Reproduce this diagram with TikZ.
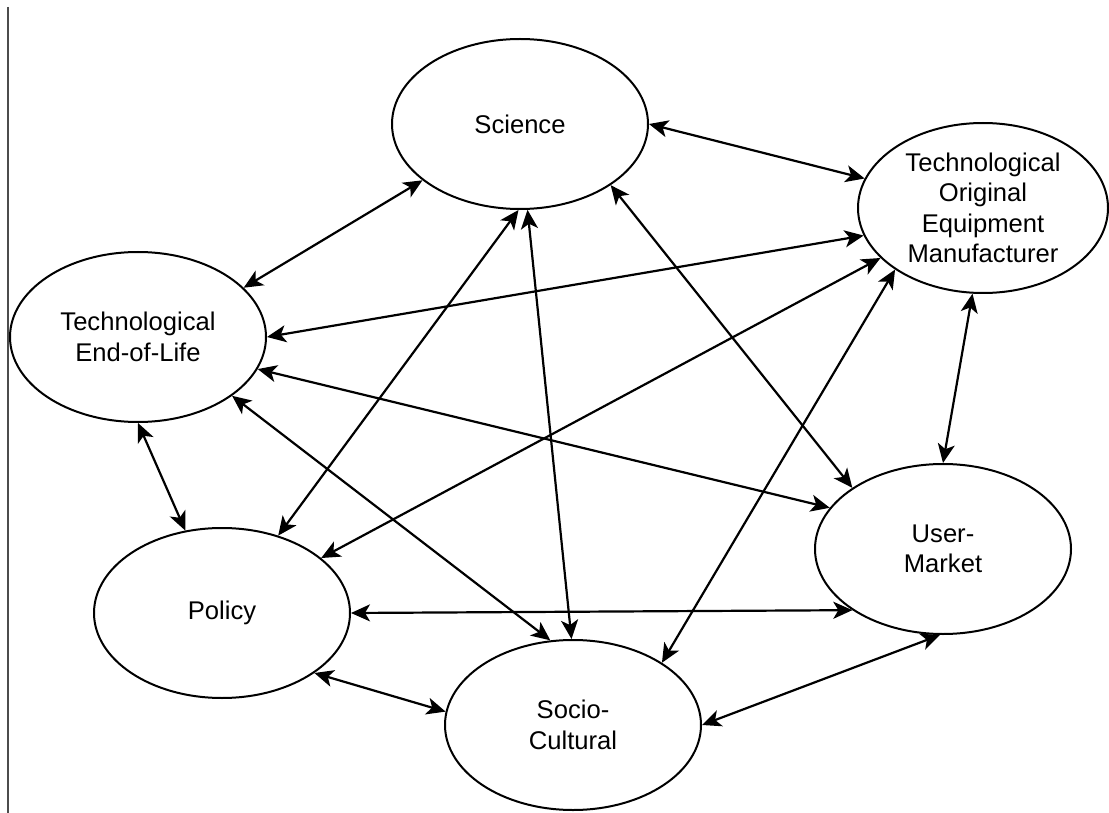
\documentclass[tikz,border=0pt]{standalone}
\usepackage{fontspec}
\setmainfont{Liberation Sans}
\usetikzlibrary{arrows.meta,shapes.geometric}
\begin{document}
\begin{tikzpicture}[x=1pt,y=-1pt,
  ell/.style={ellipse,draw,line width=2pt,minimum width=256pt,minimum height=170pt,inner sep=0pt,align=center,font=\fontsize{25.6}{30.5}\selectfont},
  link/.style={line width=2.2pt,{Stealth[length=19pt,width=17pt,inset=5pt]}-{Stealth[length=19pt,width=17pt,inset=5pt]}},
  leftrule/.style={line width=1.3pt,black!70}]
\fill[white] (0,0) rectangle (1109,813);
\useasboundingbox (0,0) rectangle (1109,813);
\draw[leftrule] (8,7) -- (8,813);
\node[ell] (sci) at (520,124) {Science};
\node[ell,minimum width=250pt] (oem) at (983,208) {Technological\\Original\\Equipment\\Manufacturer};
\node[ell] (eol) at (138,337) {Technological\\End-of-Life};
\node[ell] (um) at (943,549) {User-\\Market};
\node[ell] (pol) at (222,613) {Policy};
\node[ell] (soc) at (573,725) {Socio-\\Cultural};
\draw[link] (sci.210) -- (eol.25);
\draw[link] (sci.0) -- (oem.166);
\draw[link] (oem.193) -- (eol.0);
\draw[link] (sci.269) -- (pol.54);
\draw[link] (sci.275) -- (soc.91);
\draw[link] (sci.326) -- (um.146);
\draw[link] (oem.206) -- (pol.29);
\draw[link] (oem.215) -- (soc.35);
\draw[link] (oem.263) -- (um.90);
\draw[link] (eol.345) -- (um.160);
\draw[link] (eol.270) -- (pol.114);
\draw[link] (eol.328) -- (soc.105);
\draw[link] (pol.0) -- (um.214);
\draw[link] (pol.327) -- (soc.174);
\draw[link] (soc.0) -- (um.268);
\end{tikzpicture}
\end{document}
